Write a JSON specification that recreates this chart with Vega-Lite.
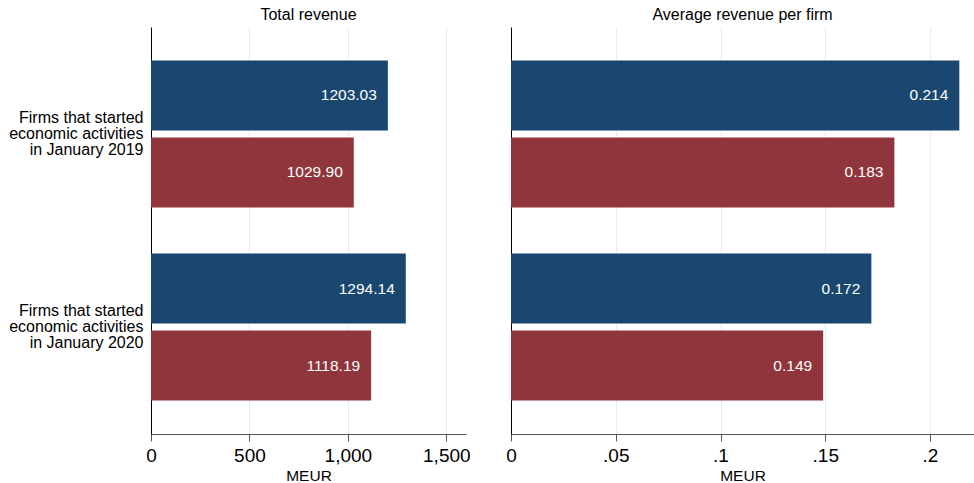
{
  "$schema": "https://vega.github.io/schema/vega-lite/v6.json",
  "padding": {"left": 8, "top": 7, "right": 0, "bottom": 0},
  "background": "white",
  "config": {
    "view": {"stroke": null},
    "font": "Liberation Sans",
    "title": {"font": "Liberation Sans", "fontSize": 16, "fontWeight": "normal", "color": "#000000", "offset": 4},
    "axis": {"labelFont": "Liberation Sans", "titleFont": "Liberation Sans"}
  },
  "data": {
    "values": [
      {"group": "Firms that started economic activities in January 2019", "series": "Series 1", "total": 1203.03, "average": 0.214},
      {"group": "Firms that started economic activities in January 2019", "series": "Series 2", "total": 1029.90, "average": 0.183},
      {"group": "Firms that started economic activities in January 2020", "series": "Series 1", "total": 1294.14, "average": 0.172},
      {"group": "Firms that started economic activities in January 2020", "series": "Series 2", "total": 1118.19, "average": 0.149}
    ]
  },
  "hconcat": [
    {
      "width": 315,
      "height": 407,
      "title": "Total revenue",
      "encoding": {
        "y": {
          "field": "group", "type": "nominal", "title": null,
          "scale": {"paddingInner": 0.238, "paddingOuter": 0.173},
          "axis": {
            "domainColor": "#000000", "domainWidth": 1, "ticks": false, "grid": false,
            "labelFontSize": 16, "labelColor": "#000000", "labelPadding": 8, "labelLimit": 300,
            "labelLineHeight": 16, "labelOffset": -16,
            "labelExpr": "datum.value == 'Firms that started economic activities in January 2019' ? ['Firms that started', 'economic activities', 'in January 2019'] : ['Firms that started', 'economic activities', 'in January 2020']"
          }
        },
        "yOffset": {"field": "series", "type": "nominal", "scale": {"paddingInner": 0.091, "paddingOuter": 0}},
        "x": {
          "field": "total", "type": "quantitative", "title": "MEUR",
          "scale": {"domain": [0, 1600], "nice": false},
          "axis": {
            "values": [0, 500, 1000, 1500], "format": ",.0f", "labelFlush": false,
            "domainColor": "#555555", "tickColor": "#555555", "tickSize": 7,
            "labelFontSize": 19, "labelColor": "#000000", "labelPadding": 5,
            "titleFontSize": 15.5, "titleFontWeight": "normal", "titleColor": "#000000", "titlePadding": 3,
            "gridColor": "#e6edf0", "gridWidth": 1
          }
        }
      },
      "layer": [
        {
          "mark": {"type": "bar"},
          "encoding": {
            "color": {"field": "series", "type": "nominal", "legend": null,
              "scale": {"domain": ["Series 1", "Series 2"], "range": ["#1a476f", "#90353b"]}}
          }
        },
        {
          "mark": {"type": "text", "align": "right", "baseline": "middle", "dx": -11, "fontSize": 15.5, "color": "#ffffff"},
          "encoding": {"text": {"field": "total", "type": "quantitative", "format": ".2f"}}
        }
      ]
    },
    {
      "width": 463,
      "height": 407,
      "title": "Average revenue per firm",
      "encoding": {
        "y": {
          "field": "group", "type": "nominal", "title": null,
          "scale": {"paddingInner": 0.238, "paddingOuter": 0.173},
          "axis": {"domainColor": "#000000", "domainWidth": 1, "ticks": false, "labels": false, "grid": false}
        },
        "yOffset": {"field": "series", "type": "nominal", "scale": {"paddingInner": 0.091, "paddingOuter": 0}},
        "x": {
          "field": "average", "type": "quantitative", "title": "MEUR",
          "scale": {"domain": [0, 0.221], "nice": false},
          "axis": {
            "values": [0, 0.05, 0.1, 0.15, 0.2], "labelFlush": false,
            "labelExpr": "datum.value == 0 ? '0' : replace(toString(datum.value), '0.', '.')",
            "domainColor": "#555555", "tickColor": "#555555", "tickSize": 7,
            "labelFontSize": 19, "labelColor": "#000000", "labelPadding": 5,
            "titleFontSize": 15.5, "titleFontWeight": "normal", "titleColor": "#000000", "titlePadding": 3,
            "gridColor": "#e6edf0", "gridWidth": 1
          }
        }
      },
      "layer": [
        {
          "mark": {"type": "bar"},
          "encoding": {
            "color": {"field": "series", "type": "nominal", "legend": null,
              "scale": {"domain": ["Series 1", "Series 2"], "range": ["#1a476f", "#90353b"]}}
          }
        },
        {
          "mark": {"type": "text", "align": "right", "baseline": "middle", "dx": -11, "fontSize": 15.5, "color": "#ffffff"},
          "encoding": {"text": {"field": "average", "type": "quantitative", "format": ".3f"}}
        }
      ]
    }
  ],
  "bounds": "flush",
  "spacing": 45,
  "resolve": {"scale": {"color": "shared"}}
}
